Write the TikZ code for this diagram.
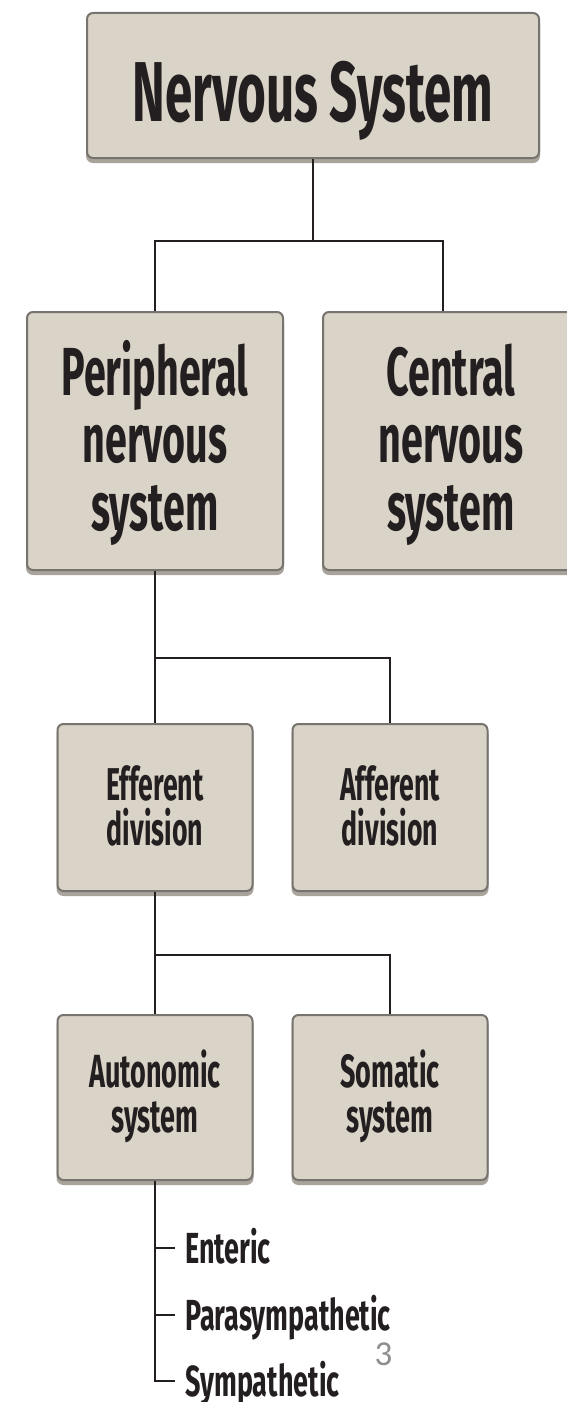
\documentclass[tikz,border=0pt]{standalone}
\usepackage{fontspec}
\setmainfont{Fira Sans}[FakeStretch=0.62]
\newfontfamily\nsfont{Fira Sans}[FakeStretch=0.58]
\newfontfamily\boxfont{Fira Sans}[FakeStretch=0.58]
\newfontfamily\numfont{Carlito}
\definecolor{boxfill}{HTML}{DAD3C7}
\definecolor{boxline}{HTML}{77736F}
\definecolor{boxshadow}{HTML}{A9A39C}
\definecolor{connc}{HTML}{231F20}
\definecolor{numgrey}{HTML}{8E8E8E}
\begin{document}
\begin{tikzpicture}[x=1pt,y=-1pt,
  box/.style={draw=boxline, line width=2pt, fill=boxfill, rounded corners=6pt,
    inner sep=0pt, align=center, text depth=0pt, text=connc,
    preaction={fill=boxshadow, draw=boxshadow, transform canvas={yshift=-4pt}}},
  conn/.style={draw=connc, line width=2pt},
  item/.style={anchor=base west, inner sep=0pt, text=connc,
    font=\fontsize{43.5}{43.5}\selectfont\bfseries, text height=30pt, text depth=0pt}]
\useasboundingbox (0,0) rectangle (566,1402);
% row 1
\node[box, minimum width=452pt, minimum height=145pt, text height=73pt,
  font=\nsfont\fontsize{85}{85}\selectfont\bfseries] (ns) at (313,85.5) {Nervous System};
% row 2
\node[box, minimum width=256pt, minimum height=258pt, text height=178pt,
  font=\boxfont\fontsize{68}{67.5}\selectfont\bfseries] (pns) at (155,441) {Peripheral\\nervous\\system};
\node[box, minimum width=256pt, minimum height=258pt, text height=178pt,
  font=\boxfont\fontsize{68}{67.5}\selectfont\bfseries] (cns) at (451,441) {Central\\nervous\\system};
% row 3
\node[box, minimum width=195pt, minimum height=167pt, text height=75pt,
  font=\boxfont\fontsize{46}{45}\selectfont\bfseries] (eff) at (155,807.5) {Efferent\\division};
\node[box, minimum width=195pt, minimum height=167pt, text height=75pt,
  font=\boxfont\fontsize{46}{45}\selectfont\bfseries] (aff) at (390,807.5) {Afferent\\division};
% row 4
\node[box, minimum width=195pt, minimum height=165pt, text height=69pt,
  font=\boxfont\fontsize{46.5}{45}\selectfont\bfseries] (aut) at (155,1097.5) {Autonomic\\system};
\node[box, minimum width=195pt, minimum height=165pt, text height=69pt,
  font=\boxfont\fontsize{46.5}{45}\selectfont\bfseries] (som) at (390,1097.5) {Somatic\\system};
% list
\node[item] (ent) at (185,1263) {Enteric};
\node[item] (par) at (185,1330) {Parasympathetic};
\node[item] (sym) at (185,1396) {Sympathetic};
\node[anchor=base, inner sep=0pt, text=numgrey, font=\numfont\fontsize{35}{35}\selectfont] (pg) at (383.5,1365) {3};
% connectors
\coordinate (j1) at (313,241);
\coordinate (j2) at (155,658);
\coordinate (j3) at (155,955);
\draw[conn] (ns.south) -- (j1);
\draw[conn] (pns.north) |- (j1);
\draw[conn] ([xshift=-8pt]cns.north) |- (j1);
\draw[conn] (pns.south) -- (eff.north);
\draw[conn] (aff.north) |- (j2);
\draw[conn] (eff.south) -- (aut.north);
\draw[conn] (som.north) |- (j3);
\draw[conn] (aut.south) |- ([xshift=-10pt]sym.west);
\draw[conn] (ent.west -| aut.south) -- ([xshift=-10pt]ent.west);
\draw[conn] (par.west -| aut.south) -- ([xshift=-10pt]par.west);
\end{tikzpicture}
\end{document}
